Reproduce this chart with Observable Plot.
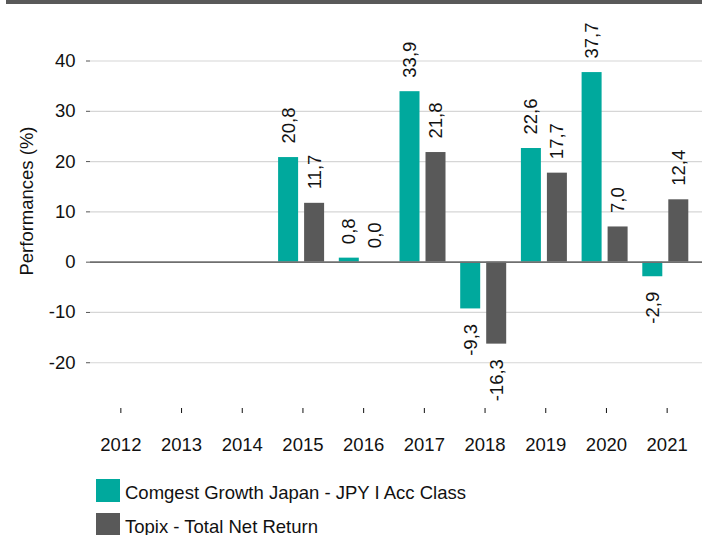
<!DOCTYPE html>
<html>
<head>
<meta charset="utf-8">
<script src="https://cdn.jsdelivr.net/npm/d3@7"></script>
<script src="https://cdn.jsdelivr.net/npm/@observablehq/plot@0.6"></script>
<style>
  body { margin: 0; background: #fff; font-family: Arial, "Liberation Sans", sans-serif; }
  #wrap { position: relative; width: 702px; height: 535px; overflow: hidden; }
  #topbar { position: absolute; left: 6px; top: 0; width: 696px; height: 4px; background: #595959; }
  #chart { position: absolute; left: 0; top: 0; }
  .sw { position: absolute; width: 24px; height: 23px; }
  .lt { position: absolute; font-size: 18.5px; color: #111; white-space: nowrap; line-height: 1; }
</style>
</head>
<body>
<div id="wrap">
  <div id="chart"></div>
  <div id="topbar"></div>
  <div id="legend"></div>
</div>
<script>
const years = ["2012","2013","2014","2015","2016","2017","2018","2019","2020","2021"];
const fundValues = [null, null, null, 20.8, 0.8, 33.9, -9.3, 22.6, 37.7, -2.9];
const indexValues = [null, null, null, 11.7, 0.0, 21.8, -16.3, 17.7, 7.0, 12.4];
const seriesNames = ["Comgest Growth Japan - JPY I Acc Class", "Topix - Total Net Return"];
const seriesColors = ["#00a99d", "#595959"];
const yTicks = [-20, -10, 0, 10, 20, 30, 40];
const gridTicks = [-20, -10, 10, 20, 30, 40];
const yDomain = [-29.1, 49.05];

const fund = years.map((year, i) => ({year, value: fundValues[i]})).filter(d => d.value != null);
const index = years.map((year, i) => ({year, value: indexValues[i]})).filter(d => d.value != null);
const fmt = d => d.value.toFixed(1).replace(".", ",");
const font = "Arial, 'Liberation Sans', sans-serif";
const fs = 18.5;

const chart = Plot.plot({
  width: 702,
  height: 460,
  marginTop: 15,
  marginBottom: 52,
  marginLeft: 90,
  marginRight: 0,
  style: {fontFamily: font, fontSize: fs + "px", color: "#111", background: "transparent"},
  x: {domain: years, range: [90, 697], padding: 0, round: false},
  y: {domain: yDomain},
  marks: [
    Plot.ruleY(gridTicks, {stroke: "#d6d6d6", strokeWidth: 1.2}),
    Plot.barY(fund, {x: "year", y: "value", fill: seriesColors[0], insetLeft: 6, insetRight: 34.7}),
    Plot.barY(index, {x: "year", y: "value", fill: seriesColors[1], insetLeft: 32, insetRight: 8.7}),
    Plot.ruleY([0], {stroke: "#6f6f6f", strokeWidth: 1.6}),
    Plot.text(fund.filter(d => d.value >= 0), {x: "year", y: "value", text: fmt, rotate: -90, textAnchor: "start", dx: -14.35, dy: -14, fontSize: fs, fill: "#111"}),
    Plot.text(index.filter(d => d.value >= 0), {x: "year", y: "value", text: fmt, rotate: -90, textAnchor: "start", dx: 11.65, dy: -14, fontSize: fs, fill: "#111"}),
    Plot.text(fund.filter(d => d.value < 0), {x: "year", y: "value", text: fmt, rotate: -90, textAnchor: "end", dx: -14.35, dy: 15, fontSize: fs, fill: "#111"}),
    Plot.text(index.filter(d => d.value < 0), {x: "year", y: "value", text: fmt, rotate: -90, textAnchor: "end", dx: 11.65, dy: 15, fontSize: fs, fill: "#111"}),
    Plot.axisY({ticks: yTicks, tickFormat: d => String(d), tickSize: 4, tickPadding: 11, label: null, line: true, stroke: "#555", fontSize: fs}),
    Plot.axisX({tickSize: 5, tickPadding: 24, label: null, line: true, stroke: "#111", fontSize: fs}),
    Plot.text(["Performances (%)"], {frameAnchor: "left", textAnchor: "middle", rotate: -90, dx: -63, dy: -11, fontSize: fs, fill: "#111"})
  ]
});
document.getElementById("chart").appendChild(chart);

const legend = document.getElementById("legend");
seriesNames.forEach((name, i) => {
  const sw = document.createElement("div");
  sw.className = "sw";
  sw.style.left = "96px";
  sw.style.top = (479 + i * 34) + "px";
  sw.style.background = seriesColors[i];
  legend.appendChild(sw);
  const t = document.createElement("div");
  t.className = "lt";
  t.style.left = "125px";
  t.style.top = (484 + i * 34) + "px";
  t.textContent = name;
  legend.appendChild(t);
});
</script>
</body>
</html>
